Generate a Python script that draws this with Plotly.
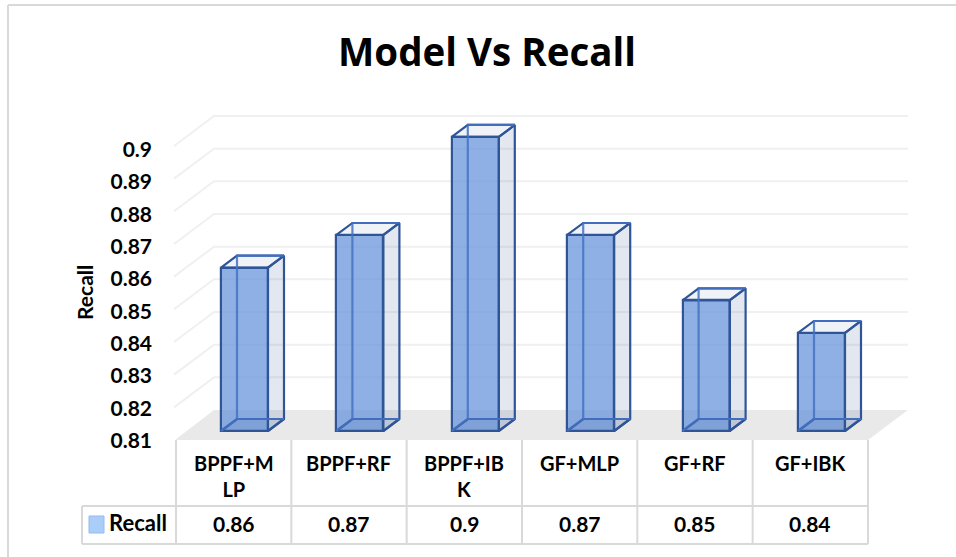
import plotly.graph_objects as go

# ---- data ----
categories = ["BPPF+M<br>LP", "BPPF+RF", "BPPF+IB<br>K", "GF+MLP", "GF+RF", "GF+IBK"]
recall = [0.86, 0.87, 0.90, 0.87, 0.85, 0.84]
recall_text = ["0.86", "0.87", "0.9", "0.87", "0.85", "0.84"]
tick_vals = [0.81, 0.82, 0.83, 0.84, 0.85, 0.86, 0.87, 0.88, 0.89, 0.90]
tick_text = ["0.81", "0.82", "0.83", "0.84", "0.85", "0.86", "0.87", "0.88", "0.89", "0.9"]
series_name = "Recall"
title_text = "Model Vs Recall"

# ---- layout constants ----
W, H = 956, 557
BASE = 0.81
X0, XS = 244.5, 115.4      # px of first bar centre, px per category
Y0, YS = 431.0, 3267.0     # px of value 0.81 on bar front, px per unit
TY0, TYS = 440.5, 3233.0   # same for the tick labels, which sit on the front wall edge
FONT = "Lato"
LINE = "#2F5597"
INNER = "rgba(68,114,196,0.85)"
BORDER = "#D9D9D9"
GRID = "#F0F0F0"
LW = 2.2

dx = 16 / XS
dy = 12 / YS
bw = 47 / XS


def xd(px):
    return (px - X0) / XS


def yd(py):
    return BASE + (Y0 - py) / YS


fig = go.Figure()

# front faces
fig.add_trace(go.Bar(
    x=list(range(len(recall))), y=[v - BASE for v in recall], base=BASE, width=bw,
    marker=dict(color="rgba(99,145,219,0.72)", line=dict(color=LINE, width=LW)),
    hoverinfo="skip", showlegend=False, name=series_name,
))

for i, v in enumerate(recall):
    l, r = i - bw / 2, i + bw / 2
    # side face
    fig.add_trace(go.Scatter(
        x=[r, r + dx, r + dx, r, r], y=[BASE, BASE + dy, v + dy, v, BASE], mode="lines", fill="toself",
        fillcolor="rgba(47,85,151,0.14)", line=dict(color=LINE, width=LW), hoverinfo="skip", showlegend=False))
    # top face
    fig.add_trace(go.Scatter(
        x=[l, l + dx, r + dx, r, l], y=[v, v + dy, v + dy, v, v], mode="lines", fill="toself",
        fillcolor="rgba(47,85,151,0.08)", line=dict(color=LINE, width=LW), hoverinfo="skip", showlegend=False))
    # floor of the box
    fig.add_trace(go.Scatter(
        x=[l, l + dx, r + dx, r, l], y=[BASE, BASE + dy, BASE + dy, BASE, BASE], mode="lines", fill="toself",
        fillcolor="rgba(47,85,151,0.10)", line=dict(color=LINE, width=LW), hoverinfo="skip", showlegend=False))
    # hidden back edges
    fig.add_trace(go.Scatter(
        x=[l, l + dx, l + dx, r + dx], y=[BASE, BASE + dy, v + dy, v + dy], mode="lines",
        line=dict(color=INNER, width=LW), hoverinfo="skip", showlegend=False))
    fig.add_trace(go.Scatter(
        x=[l + dx, r + dx], y=[BASE + dy, BASE + dy], mode="lines",
        line=dict(color=INNER, width=LW), hoverinfo="skip", showlegend=False))

shapes = []


def paper_line(x0, y0, x1, y1, color=BORDER, width=2):
    shapes.append(dict(type="line", xref="paper", yref="paper", x0=x0 / W, x1=x1 / W,
                       y0=1 - y0 / H, y1=1 - y1 / H, line=dict(color=color, width=width), layer="below"))


# floor
shapes.append(dict(type="path", xref="x", yref="y", layer="below", line=dict(width=0), fillcolor="#E9E9E9",
                   path="M %f %f L %f %f L %f %f L %f %f Z" % (
                       xd(175), yd(440), xd(214), yd(410), xd(908), yd(410), xd(868), yd(440))))
# gridlines (walls)
for t in tick_vals[1:]:
    back = 410 - (t - BASE) * YS
    front = back + 30
    shapes.append(dict(type="path", xref="x", yref="y", layer="below", line=dict(color=GRID, width=2),
                       path="M %f %f L %f %f L %f %f" % (
                           xd(174), yd(front), xd(214), yd(back), xd(908), yd(back))))

# chart frame
paper_line(8, 5, 956, 5)
paper_line(8, 5, 8, 557)

# data table
col_edges = [176 + i * 115.33 for i in range(len(categories) + 1)]
for e in col_edges:
    paper_line(e, 440, e, 544)
paper_line(82, 506, col_edges[-1], 506)
paper_line(82, 544, col_edges[-1], 544)
paper_line(82, 506, 82, 544)
# legend key
shapes.append(dict(type="rect", xref="paper", yref="paper", x0=89 / W, x1=104 / W, y0=1 - 533 / H, y1=1 - 516 / H,
                   fillcolor="#ABCDF9", line=dict(color="#96BBEC", width=1)))

bold = lambda s: "<b>%s</b>" % s
annotations = []
for i, (c, t) in enumerate(zip(categories, recall_text)):
    cx = (col_edges[i] + col_edges[i + 1]) / 2
    annotations.append(dict(xref="paper", yref="paper", x=cx / W, y=1 - 449 / H, yanchor="top", xanchor="center",
                            text=bold(c), showarrow=False, align="center",
                            font=dict(family=FONT, size=20, color="black")))
    annotations.append(dict(xref="paper", yref="paper", x=cx / W, y=1 - 523 / H, yanchor="middle", xanchor="center",
                            text=bold(t), showarrow=False, font=dict(family=FONT, size=21, color="black")))
annotations.append(dict(xref="paper", yref="paper", x=107 / W, y=1 - 522 / H, xanchor="left", yanchor="middle",
                        text=bold(series_name), showarrow=False, font=dict(family=FONT, size=22, color="black")))
annotations.append(dict(xref="paper", yref="paper", x=84 / W, y=1 - 293 / H, xanchor="center", yanchor="middle",
                        textangle=-90, text=bold(series_name), showarrow=False,
                        font=dict(family=FONT, size=21, color="black")))

fig.update_layout(
    width=W, height=H, autosize=False, margin=dict(l=0, r=0, t=0, b=0),
    paper_bgcolor="white", plot_bgcolor="white", showlegend=False,
    title=dict(text=bold(title_text), x=487 / W, xanchor="center", y=1 - 53 / H, yanchor="middle",
               font=dict(family="Open Sans", size=38.5, color="black")),
    xaxis=dict(range=[xd(0), xd(W)], visible=False, domain=[0, 1]),
    yaxis=dict(range=[yd(H), yd(0)], visible=False, domain=[0, 1]),
    yaxis2=dict(range=[BASE + (TY0 - H) / TYS, BASE + TY0 / TYS], overlaying="y", anchor="free", position=152 / W,
                side="left", tickvals=tick_vals, ticktext=[bold(t) for t in tick_text], showgrid=False,
                zeroline=False, showline=False, ticklen=0,
                tickfont=dict(family=FONT, size=21, color="black")),
    shapes=shapes, annotations=annotations, bargap=0,
)
# invisible trace to bring the tick axis to life
fig.add_trace(go.Scatter(x=[0], y=[BASE], yaxis="y2", mode="markers", marker=dict(opacity=0), hoverinfo="skip",
                         showlegend=False))

fig.write_html("out.html", post_script="document.body.style.margin='0';", config={"displayModeBar": False})
